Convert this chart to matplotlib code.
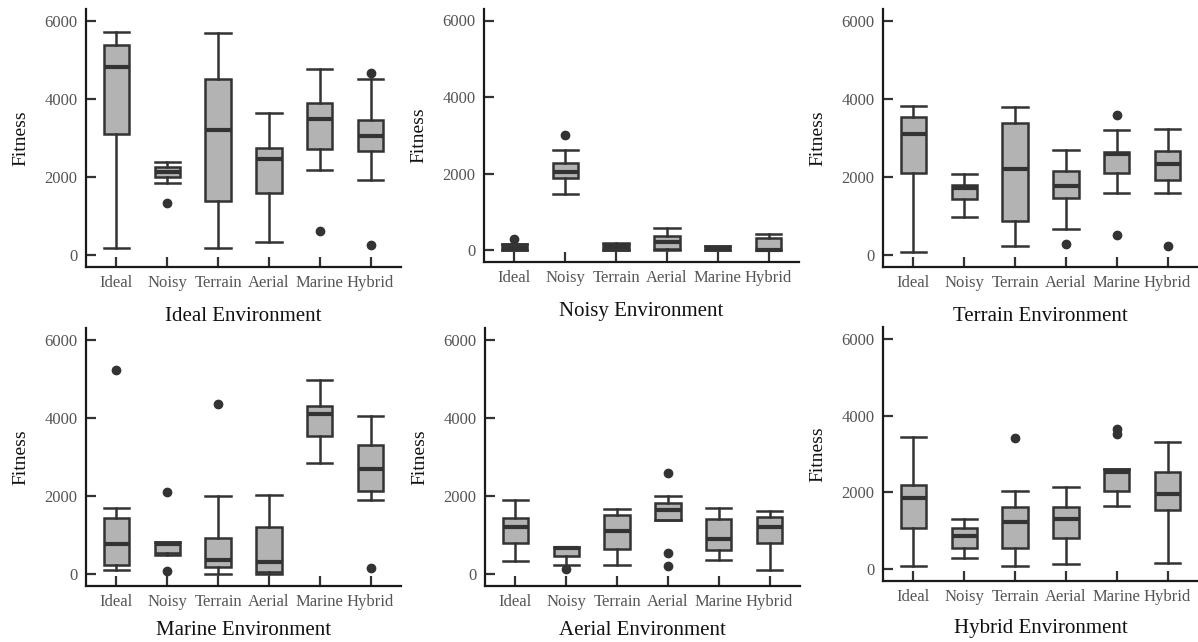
import matplotlib
matplotlib.use("Agg")
import matplotlib.pyplot as plt

plt.rcParams['font.family'] = ['Liberation Serif', 'DejaVu Serif']

# categories (robot type evaluated)
robots = ["Ideal", "Noisy", "Terrain", "Aerial", "Marine", "Hybrid"]

# box stats per robot: [whislo, q1, median, q3, whishi]
ideal_env = [[190, 3110, 4820, 5390, 5700],
             [1850, 2005, 2135, 2260, 2390],
             [196, 1383, 3200, 4506, 5676],
             [350, 1605, 2450, 2740, 3627],
             [2193, 2714, 3482, 3900, 4763],
             [1920, 2663, 3055, 3448, 4506]]
ideal_out = [[], [1340], [], [], [614], [4651, 273]]

noisy_env = [[0, 0, 60, 160, 160],
             [1465, 1882, 2046, 2272, 2627],
             [0, 0, 80, 165, 190],
             [0, 40, 220, 390, 598],
             [0, 10, 70, 110, 120],
             [0, 10, 15, 320, 425]]
noisy_out = [[295], [3009], [], [], [], []]

terrain_env = [[77, 2108, 3098, 3525, 3815],
               [982, 1451, 1716, 1809, 2074],
               [248, 871, 2219, 3388, 3790],
               [674, 1468, 1775, 2151, 2688],
               [1588, 2108, 2586, 2637, 3209],
               [1605, 1920, 2347, 2663, 3243]]
terrain_out = [[], [], [], [290], [3585, 529], [239]]

marine_env = [[102, 230, 767, 1440, 1705],
              [503, 544, 767, 826, 826],
              [18, 187, 375, 938, 1994],
              [18, 60, 315, 1210, 2028],
              [2838, 3528, 4108, 4304, 4960],
              [1909, 2131, 2702, 3315, 4048]]
marine_out = [[5216], [2105, 85], [4347], [], [], [153]]

aerial_env = [[349, 801, 1210, 1449, 1909],
              [230, 480, 660, 700, 700],
              [230, 648, 1099, 1509, 1679],
              [1381, 1381, 1636, 1832, 1994],
              [358, 631, 912, 1423, 1696],
              [102, 810, 1210, 1466, 1619]]
aerial_out = [[], [145], [], [2600, 554, 205], [], []]

hybrid_env = [[96, 1077, 1849, 2188, 3438],
              [295, 564, 868, 1077, 1320],
              [87, 564, 1224, 1632, 2041],
              [148, 816, 1320, 1632, 2153],
              [1658, 2049, 2544, 2622, 2622],
              [174, 1537, 1971, 2527, 3317]]
hybrid_out = [[], [], [3404], [], [3647, 3525], []]

panels = [("Ideal Environment", ideal_env, ideal_out),
          ("Noisy Environment", noisy_env, noisy_out),
          ("Terrain Environment", terrain_env, terrain_out),
          ("Marine Environment", marine_env, marine_out),
          ("Aerial Environment", aerial_env, aerial_out),
          ("Hybrid Environment", hybrid_env, hybrid_out)]

W, H = 1198, 642
fig = plt.figure(figsize=(W / 100, H / 100), dpi=100)

# axes boxes in pixels: left, top, bottom, title pad
boxes = [(86, 9, 267, 11), (484, 9, 262, 11), (883, 9, 267, 11),
         (86, 328, 586, 8), (485, 328, 586, 8), (883, 327, 581, 10)]
axw = 315

edge = "#333333"
for (title, stats, outs), (lx, ty, by, tpad) in zip(panels, boxes):
    ax = fig.add_axes([lx / W, 1 - by / H, axw / W, (by - ty) / H])
    bxp_stats = []
    for name, s, o in zip(robots, stats, outs):
        bxp_stats.append(dict(label=name, whislo=s[0], q1=s[1], med=s[2],
                              q3=s[3], whishi=s[4], fliers=o))
    ax.bxp(bxp_stats, positions=range(1, 7), widths=0.5, patch_artist=True,
           boxprops=dict(facecolor="#b3b3b3", edgecolor=edge, linewidth=1.8),
           medianprops=dict(color=edge, linewidth=3.0, solid_capstyle="butt"),
           whiskerprops=dict(color=edge, linewidth=1.8),
           capprops=dict(color=edge, linewidth=1.8),
           capwidths=0.5,
           flierprops=dict(marker="o", markerfacecolor=edge,
                           markeredgecolor=edge, markersize=6))
    ax.set_xlim(0.4, 6.6)
    ax.set_ylim(-300, 6300)
    ax.set_yticks([0, 2000, 4000, 6000])
    ax.spines["top"].set_visible(False)
    ax.spines["right"].set_visible(False)
    for sp in ("left", "bottom"):
        ax.spines[sp].set_linewidth(1.6)
        ax.spines[sp].set_color("#1a1a1a")
    ax.tick_params(direction="in", length=7, width=1.6, color="#333333",
                   labelsize=12, labelcolor="#555555", pad=6)
    ax.set_xlabel(title, fontsize=15, labelpad=tpad, color="#111111")
    ax.set_ylabel("Fitness", fontsize=14, labelpad=11, color="#111111")

fig.savefig("out.png", dpi=100)
